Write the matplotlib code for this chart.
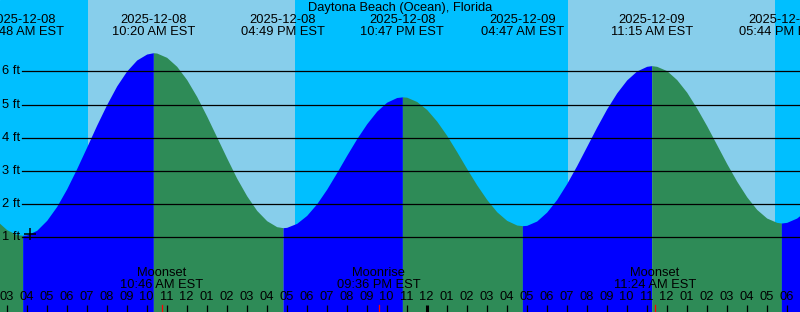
import matplotlib
matplotlib.use("Agg")
import matplotlib.pyplot as plt
import numpy as np

plt.rcParams['font.family'] = ['Liberation Sans', 'DejaVu Sans']

# hours counted from 2025-12-08 00:00 EST
title = "Daytona Beach (Ocean), Florida"
sample_hours = np.arange(2.5, 43.01, 0.5)
sample_ft = [1.50, 1.23, 1.08, 1.07, 1.21, 1.51, 1.93, 2.46, 3.07, 3.72, 4.38, 5.00,
             5.56, 6.01, 6.34, 6.52, 6.55, 6.42, 6.15, 5.75, 5.24, 4.65, 4.02, 3.39,
             2.78, 2.25, 1.81, 1.50, 1.32, 1.30, 1.42, 1.66, 2.01, 2.45, 2.95, 3.47,
             3.97, 4.42, 4.80, 5.07, 5.21, 5.22, 5.09, 4.85, 4.50, 4.07, 3.58, 3.07,
             2.58, 2.14, 1.77, 1.51, 1.37, 1.36, 1.49, 1.76, 2.14, 2.62, 3.16, 3.74,
             4.32, 4.87, 5.35, 5.74, 6.01, 6.15, 6.15, 6.02, 5.75, 5.37, 4.89, 4.36,
             3.79, 3.22, 2.69, 2.22, 1.84, 1.58, 1.45, 1.45, 1.58, 1.82]

extreme_hours = [3.8, 10.333, 16.817, 22.783, 28.783, 35.25, 41.733]
extreme_ft = [1.06, 6.56, 1.29, 5.23, 1.35, 6.17, 1.43]
extreme_dates = ["2025-12-08", "2025-12-08", "2025-12-08", "2025-12-08",
                 "2025-12-09", "2025-12-09", "2025-12-09"]
extreme_times = ["03:48 AM EST", "10:20 AM EST", "04:49 PM EST", "10:47 PM EST",
                 "04:47 AM EST", "11:15 AM EST", "05:44 PM EST"]

sunrise = [7.065, 31.05]
sunset = [17.415, 41.415]

moon_hours = [10.767, 21.6, 35.4]
moon_names = ["Moonset", "Moonrise", "Moonset"]
moon_times = ["10:46 AM EST", "09:36 PM EST", "11:24 AM EST"]

ft_levels = [1, 2, 3, 4, 5, 6]
now_hour, now_ft = 4.17, 1.09

night_col = "#00BFFF"
day_col = "#87CEEB"
rise_col = "#0000FF"
fall_col = "#2E8B57"
fs = 9.3

t0, t1 = 2.665, 42.665


def py(p):
    # pixel row from top -> feet
    return (270.5 - p) / 33.2


fig = plt.figure(figsize=(8, 3.12), dpi=100)
ax = fig.add_axes([0, 0, 1, 1])
ax.set_xlim(t0, t1)
ax.set_ylim(py(312), py(0))
ax.axis("off")
ax.add_patch(plt.Rectangle((t0, py(312)), t1 - t0, py(0) - py(312),
                           color=night_col, zorder=0))
for a, b in zip(sunrise, sunset):
    ax.axvspan(a, b, color=day_col, lw=0, zorder=0.5)

# tide curve, coloured rising / falling
all_t = np.concatenate([sample_hours, extreme_hours])
all_h = np.concatenate([sample_ft, extreme_ft])
order = np.argsort(all_t)
all_t, all_h = all_t[order], all_h[order]
bounds = [all_t[0]] + extreme_hours + [all_t[-1]]
for a, b in zip(bounds[:-1], bounds[1:]):
    m = (all_t >= a) & (all_t <= b)
    tt, hh = all_t[m], all_h[m]
    col = rise_col if hh[-1] > hh[0] else fall_col
    ax.fill_between(tt, hh, py(330), color=col, lw=0, zorder=1)

for lv in ft_levels:
    ax.axhline(lv, xmin=22 / 800, xmax=1, color="black", lw=0.9, zorder=2)
    ax.text(t0 + 2 / 20, lv, f"{lv} ft", fontsize=fs, ha="left", va="center", zorder=3)

ax.plot([now_hour], [now_ft], marker="+", ms=9, mew=1.1, color="black", zorder=3)

ax.text((t0 + t1) / 2, py(8), title, fontsize=fs, ha="center", va="center")
for h, d, s in zip(extreme_hours, extreme_dates, extreme_times):
    ax.text(h, py(20), d, fontsize=fs, ha="center", va="center")
    ax.text(h, py(31.7), s, fontsize=fs, ha="center", va="center")

for h, n, s in zip(moon_hours, moon_names, moon_times):
    ax.text(h, py(273.3), n, fontsize=fs, ha="center", va="center", zorder=3)
    ax.text(h, py(285.5), s, fontsize=fs, ha="center", va="center", zorder=3)
    ax.plot([h, h], [py(304.7), py(312)], color="red", lw=0.9, zorder=3)

for hr in range(3, 43):
    lab = hr % 12
    if lab == 0:
        lab = 12
    ax.text(hr, py(297.3), f"{lab:02d}", fontsize=fs, ha="center", va="center", zorder=3)
    lw = 2.2 if hr % 24 == 0 else 0.9
    ax.plot([hr, hr], [py(304.7), py(312)], color="black", lw=lw, zorder=3,
            solid_capstyle="butt")

fig.savefig("out.png", dpi=100)
